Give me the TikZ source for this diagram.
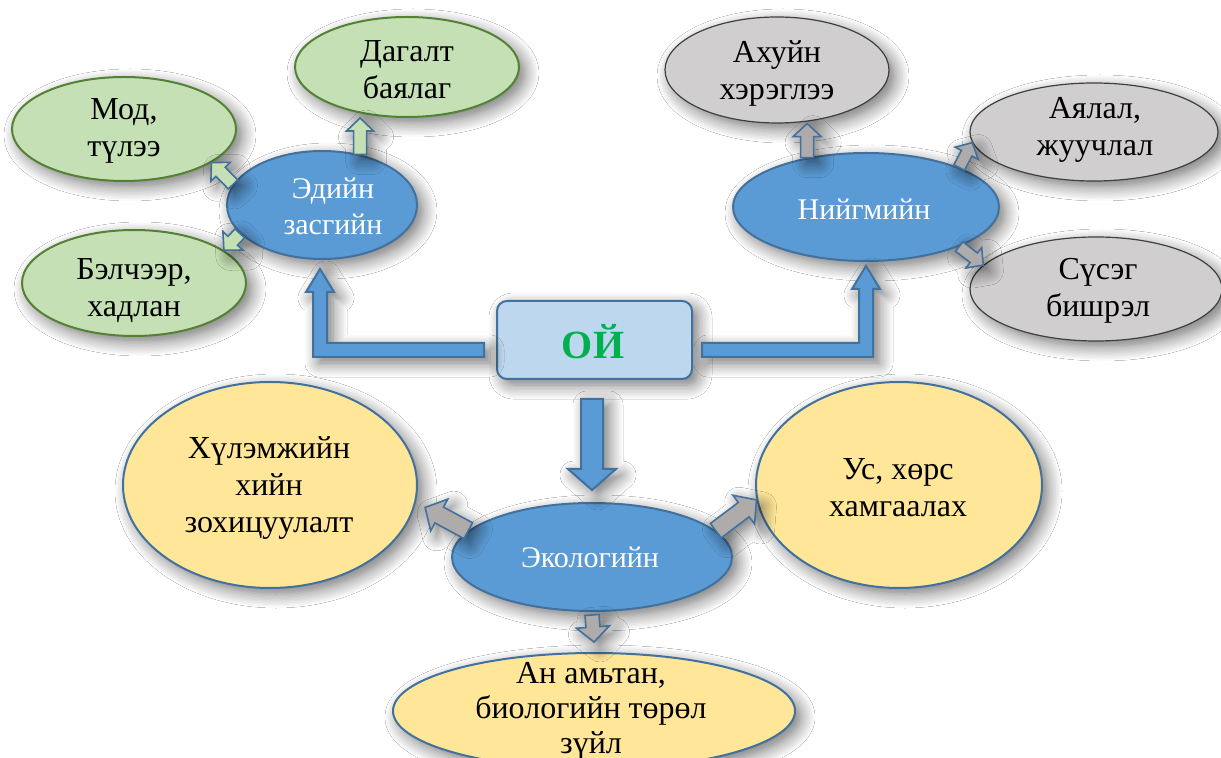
\documentclass[tikz,border=0pt]{standalone}
\usepackage{fontspec}
\setmainfont{Liberation Serif}
\usetikzlibrary{shapes.geometric,calc,shadows.blur}
\definecolor{bfill}{HTML}{5B9BD5}
\definecolor{bline}{HTML}{41719C}
\definecolor{lbfill}{HTML}{BDD7EE}
\definecolor{gfill}{HTML}{C5E0B4}
\definecolor{gline}{HTML}{548235}
\definecolor{grfill}{HTML}{D0CECE}
\definecolor{grline}{HTML}{3F3F3F}
\definecolor{grarrow}{HTML}{AFABAB}
\definecolor{yfill}{HTML}{FFE699}
\definecolor{oygreen}{HTML}{00B050}
\tikzset{
 shad/.style={blur shadow={shadow xshift=3pt, shadow yshift=-3pt, shadow blur radius=7pt, shadow opacity=55, shadow blur steps=10}},
 ell/.style={ellipse, inner sep=0pt, shad},
 greenell/.style={ell, fill=gfill, draw=gline, line width=1pt},
 greyell/.style={ell, fill=grfill, draw=grline, line width=0.6pt},
 blueell/.style={ell, fill=bfill, draw=bline, line width=1pt},
 yellell/.style={ell, fill=yfill, draw=bline, line width=1pt},
 oybox/.style={rectangle, rounded corners=5pt, fill=lbfill, draw=bline, line width=1pt, shad, minimum width=97.5pt, minimum height=39pt},
 txt/.style={align=center, inner sep=0pt, font=\fontsize{16}{18.5}\selectfont},
 wtxt/.style={align=center, inner sep=0pt, text=white, font=\fontsize{15}{18}\selectfont},
 bigarrow/.style={fill=bfill, draw=bline, line width=1pt, line join=miter, shad},
 garrow/.style={fill=gfill, draw=bline, line width=0.8pt, line join=miter, shad},
 grarr/.style={fill=grarrow, draw=bline, line width=0.8pt, line join=miter, shad},
}
% #1 style, #2 tail, #3 tip, #4 half shaft, #5 half head, #6 head length (all pt)
\newcommand\blockarrow[6]{%
  \path[#1] let \p1=(#2), \p2=(#3),
    \n1={atan2(\y2-\y1,\x2-\x1)},
    \n3={veclen(\x2-\x1,\y2-\y1)},
    \n2={veclen(\x2-\x1,\y2-\y1)-#6} in
  [shift={(\p1)}, rotate=\n1]
  (0pt,-#4pt) -- (\n2,-#4pt) -- (\n2,-#5pt) -- (\n3,0pt) --
  (\n2,#5pt) -- (\n2,#4pt) -- (0pt,#4pt) -- cycle;}
\begin{document}
\begin{tikzpicture}[x=0.5pt,y=-0.5pt]
\fill[white] (0,0) rectangle (1221,758);
\useasboundingbox (0,0) rectangle (1221,758);

% shapes
\node[greenell, minimum width=112pt, minimum height=52pt] (mod) at (124,129) {};
\node[greenell, minimum width=112pt, minimum height=50pt] (dag) at (407,67) {};
\node[greenell, minimum width=112pt, minimum height=53pt] (bel) at (134,283) {};
\node[blueell, minimum width=95pt, minimum height=54pt] (edi) at (322,205) {};

\node[greyell, minimum width=112pt, minimum height=53pt] (ahu) at (777,70) {};
\node[greyell, minimum width=124pt, minimum height=49pt] (aya) at (1094,132) {};
\node[greyell, minimum width=126pt, minimum height=52pt] (sus) at (1096,289) {};
\node[blueell, minimum width=133pt, minimum height=54pt] (nii) at (866,207) {};

\node[oybox] (oy) at (594.5,340) {};

\node[yellell, minimum width=147pt, minimum height=103pt] (hul) at (270,485) {};
\node[yellell, minimum width=143pt, minimum height=103pt] (us) at (899,485) {};
\node[yellell, minimum width=201pt, minimum height=58pt] (an) at (594,711) {};
\node[blueell, minimum width=140pt, minimum height=54pt] (eko) at (592,557) {};

% texts
\node[txt] (modt) at (124,131) {Мод,\\түлээ};
\node[txt] (dagt) at (407,70) {Дагалт\\баялаг};
\node[txt] (belt) at (134,291) {Бэлчээр,\\хадлан};
\node[wtxt] (edit) at (333,206) {Эдийн\\засгийн};
\node[txt] (ahut) at (777,73) {Ахуйн\\хэрэглээ};
\node[txt] (ayat) at (1095,130) {Аялал,\\жуучлал};
\node[txt] (sust) at (1098,291) {Сүсэг\\бишрэл};
\node[wtxt] (niit) at (864,209) {Нийгмийн};
\node[inner sep=0pt, text=oygreen, font=\bfseries\fontsize{20}{24}\selectfont] (oyt) at (593,342) {ОЙ};
\node[txt] (hult) at (269,488) {Хүлэмжийн\\хийн\\зохицуулалт};
\node[txt] (ust) at (898,488) {Ус, хөрс\\хамгаалах};
\node[wtxt] (ekot) at (590,557) {Экологийн};
\node[txt, font=\fontsize{16}{17.5}\selectfont] (ant) at (591,711) {Ан амьтан,\\биологийн төрөл\\зүйл};

% big arrows
\coordinate (L0) at ($(oy.west)+(-12,10)$);
\coordinate (L1) at ($(edi.south)+(-2,9)$);
\draw[bigarrow] ($(L0)+(0,-7)$) -- ($(L1|-L0)+(7,-7)$) -- ($(L1)+(7,23)$) -- ($(L1)+(14,23)$) -- (L1)
  -- ($(L1)+(-14,23)$) -- ($(L1)+(-7,23)$) -- ($(L1|-L0)+(-7,7)$) -- ($(L0)+(0,7)$) -- cycle;
\coordinate (R0) at ($(oy.east)+(9,10)$);
\coordinate (R1) at ($(nii.south)+(0,4)$);
\draw[bigarrow] ($(R0)+(0,-7)$) -- ($(R1|-R0)+(-7,-7)$) -- ($(R1)+(-7,23)$) -- ($(R1)+(-14,23)$) -- (R1)
  -- ($(R1)+(14,23)$) -- ($(R1)+(7,23)$) -- ($(R1|-R0)+(7,7)$) -- ($(R0)+(0,7)$) -- cycle;
\coordinate (D0) at ($(oy.south)+(-2,19)$);
\coordinate (D1) at ($(eko.north)+(0,-12)$);
\draw[bigarrow] ($(D1|-D0)+(-11,0)$) -- ($(D1)+(-11,-21)$) -- ($(D1)+(-24,-21)$) -- (D1)
  -- ($(D1)+(24,-21)$) -- ($(D1)+(11,-21)$) -- ($(D1|-D0)+(11,0)$) -- cycle;

% small arrows
\blockarrow{garrow}{edi.167}{mod.-21}{3.25}{6.75}{6.5}
\blockarrow{garrow}{edi.199}{bel.20}{3.25}{6.75}{6.5}
\blockarrow{garrow}{edi.53}{edi.53 |- dag.south}{3.25}{6.75}{6.5}
\blockarrow{grarr}{nii.140}{nii.140 |- ahu.south}{3.25}{7}{6.5}
\blockarrow{grarr}{nii.23}{aya.185}{3}{6.5}{6}
\blockarrow{grarr}{nii.-23}{sus.168}{3}{6.5}{6}
\blockarrow{grarr}{eko.168}{$(hul.-8)+(10,2)$}{4.5}{9}{8}
\blockarrow{grarr}{eko.12}{us.186}{4.5}{9}{8}
\blockarrow{grarr}{$(eko.south)+(0,3)$}{$(an.north)+(0,-10)$}{3.5}{8.25}{7.5}
\end{tikzpicture}
\end{document}
